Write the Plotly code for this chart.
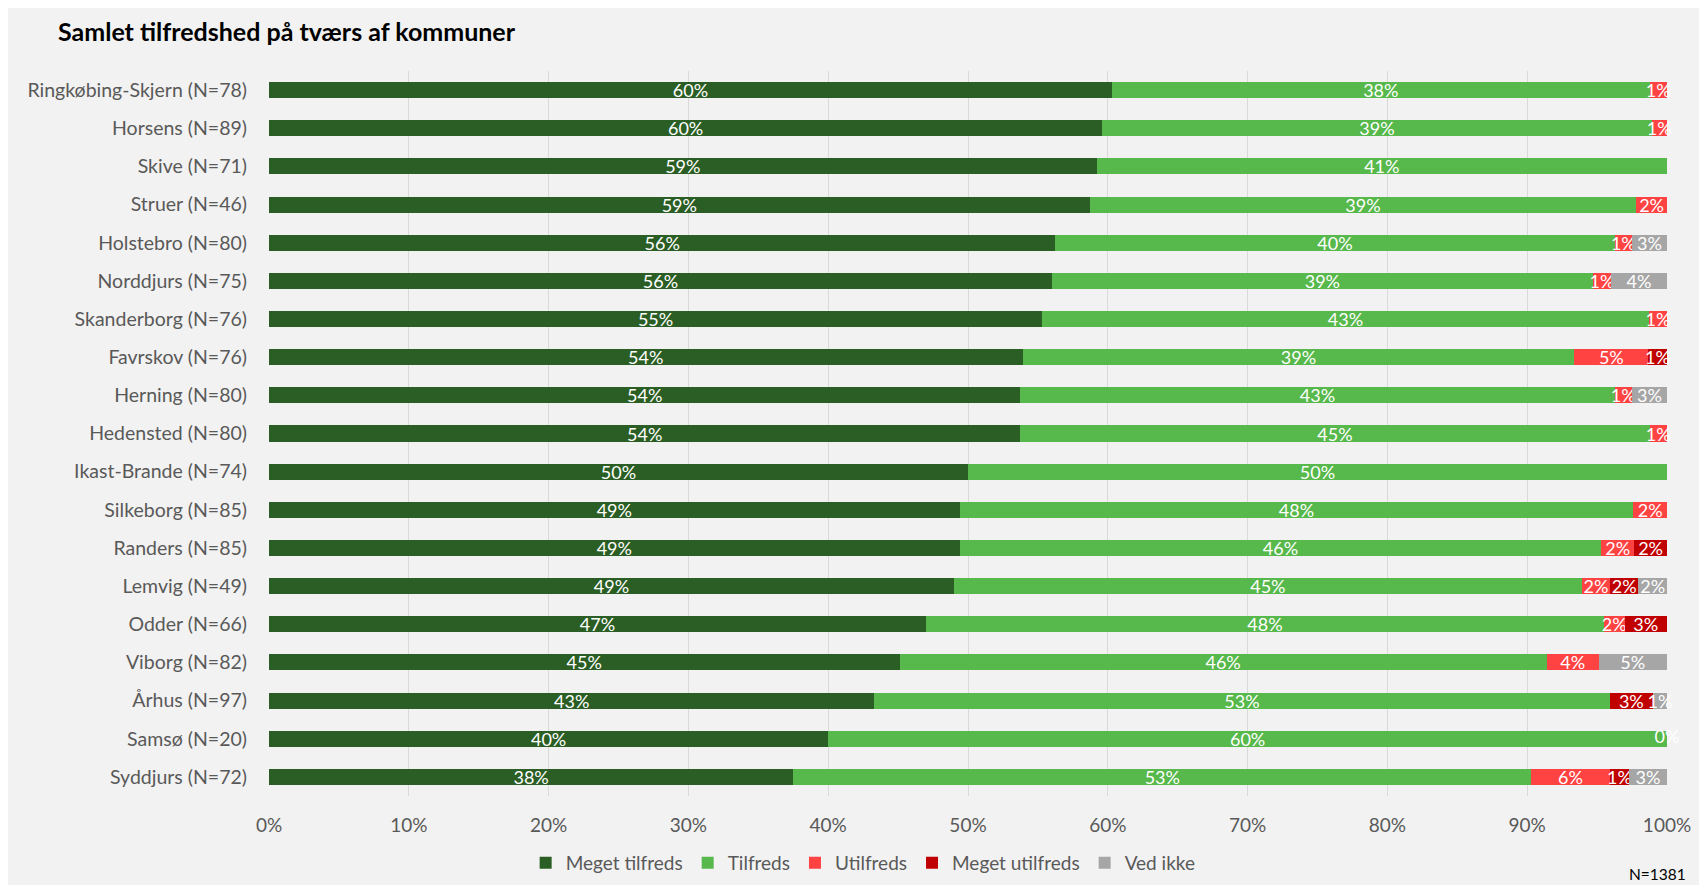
import plotly.graph_objects as go

categories = ["Ringkøbing-Skjern (N=78)", "Horsens (N=89)", "Skive (N=71)", "Struer (N=46)",
              "Holstebro (N=80)", "Norddjurs (N=75)", "Skanderborg (N=76)", "Favrskov (N=76)",
              "Herning (N=80)", "Hedensted (N=80)", "Ikast-Brande (N=74)", "Silkeborg (N=85)",
              "Randers (N=85)", "Lemvig (N=49)", "Odder (N=66)", "Viborg (N=82)",
              "Århus (N=97)", "Samsø (N=20)", "Syddjurs (N=72)"]

meget_tilfreds = [0.603, 0.596, 0.592, 0.587, 0.5625, 0.560, 0.553, 0.539, 0.5375, 0.5375, 0.500,
                  0.494, 0.494, 0.490, 0.470, 0.451, 0.433, 0.400, 0.375]
tilfreds = [0.3846, 0.393, 0.408, 0.391, 0.400, 0.387, 0.434, 0.3947, 0.425, 0.450, 0.500,
            0.482, 0.459, 0.449, 0.4848, 0.463, 0.526, 0.600, 0.528]
utilfreds = [0.0123, 0.011, None, 0.022, 0.0125, 0.013, 0.013, 0.053, 0.0125, 0.0125, None,
             0.024, 0.0235, 0.0203, 0.015, 0.037, None, None, 0.056]
meget_utilfreds = [None, None, None, None, None, None, None, 0.013, None, None, None,
                   None, 0.0235, 0.0203, 0.030, None, 0.031, None, 0.014]
ved_ikke = [None, None, None, None, 0.025, 0.040, None, None, 0.025, None, None,
            None, None, 0.0203, None, 0.049, 0.0099, 0.0, 0.0269]

series = [
    ("Meget tilfreds", meget_tilfreds, "#2B5E24"),
    ("Tilfreds", tilfreds, "#57B84B"),
    ("Utilfreds", utilfreds, "#FF4343"),
    ("Meget utilfreds", meget_utilfreds, "#C00000"),
    ("Ved ikke", ved_ikke, "#A6A6A6"),
]

FONT = "Lato"
W, H = 1699, 877
L, R, T, B = 261, 40, 63, 89
PH = H - T - B
PW = W - L - R

fig = go.Figure()
for name, vals, col in series:
    plot_vals = [None if (v is None or v == 0) else v for v in vals]
    fig.add_trace(go.Bar(
        y=categories, x=plot_vals, name=name, orientation="h",
        marker=dict(color=col, line=dict(width=0)),
        text=plot_vals, texttemplate="%{x:.0%}", textposition="inside",
        insidetextanchor="middle", constraintext="none", textangle=0,
        textfont=dict(color="white", size=18, family=FONT),
        hoverinfo="x+name", cliponaxis=False,
    ))

# zero-valued labels (e.g. Samsø)
zx, zy, zt = [], [], []
for i, c in enumerate(categories):
    for name, vals, col in series:
        if vals[i] == 0:
            total = sum(v for _, vs, _ in series for v in [vs[i]] if v)
            zx.append(total); zy.append(c); zt.append("0%")
fig.add_trace(go.Scatter(x=zx, y=zy, text=zt, mode="text", showlegend=False,
                         textfont=dict(color="white", size=18, family=FONT),
                         textposition="middle center", hoverinfo="skip", cliponaxis=False))

fig.update_layout(
    barmode="stack", bargap=0.58,
    width=W, height=H,
    paper_bgcolor="#F2F2F2", plot_bgcolor="#F2F2F2",
    margin=dict(l=L, r=R, t=T, b=B, autoexpand=False),
    font=dict(family=FONT, color="#595959", size=19),
    title=dict(text="<b>Samlet tilfredshed på tværs af kommuner</b>", x=50 / W, xanchor="left",
               y=1 - 24 / H, yanchor="middle", font=dict(size=25, color="#000000", family=FONT)),
    legend=dict(orientation="h", x=0.425, xanchor="center", yref="container",
                y=1 - 855 / H, yanchor="middle",
                font=dict(size=19, color="#595959", family=FONT), traceorder="normal",
                itemwidth=30, bgcolor="rgba(0,0,0,0)"),
    xaxis=dict(range=[0, 1], tickformat=".0%", dtick=0.1, showgrid=True, gridcolor="#D9D9D9",
               gridwidth=1, zeroline=False, showline=False, ticks="", fixedrange=True,
               automargin=False, ticklabelstandoff=16, tickfont=dict(size=19, color="#595959")),
    yaxis=dict(autorange="reversed", showgrid=False, ticks="", ticklabelstandoff=21,
               automargin=False, tickfont=dict(size=19.5, color="#595959")),
    annotations=[dict(text="N=1381", x=1 + 21 / PW, y=-78 / PH, xref="paper", yref="paper",
                      xanchor="right", yanchor="middle", showarrow=False,
                      font=dict(size=15.5, color="#000000", family=FONT))],
)

fig.write_html("out.html")
